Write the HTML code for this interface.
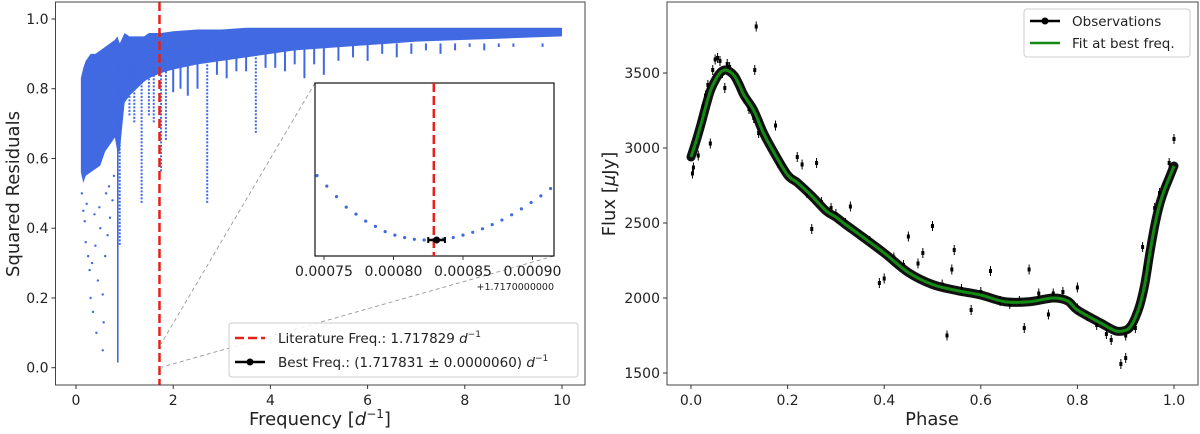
<!DOCTYPE html>
<html><head><meta charset="utf-8"><style>
html,body{margin:0;padding:0;background:#fff}
svg{display:block;font-family:"DejaVu Sans","Liberation Sans",sans-serif}
</style></head><body>
<svg id="fig" width="1200" height="434" viewBox="0 0 1200 434" xmlns="http://www.w3.org/2000/svg">
<g id="left"></g>
<g id="right"></g>
</svg>
<script>
// ---- Left panel data ----
const envFreq = [0.1,0.15,0.2,0.3,0.4,0.5,0.6,0.7,0.8,0.85,0.9,1.0,1.1,1.25,1.4,1.5,1.75,2.0,2.5,3.0,3.5,4.0,4.5,5.0,6.0,7.0,8.0,9.0,10.0];
const envUpper = [0.83,0.86,0.88,0.9,0.9,0.91,0.92,0.93,0.94,0.95,0.93,0.96,0.95,0.95,0.95,0.96,0.96,0.965,0.97,0.97,0.975,0.975,0.975,0.975,0.975,0.975,0.975,0.975,0.975];
const envLower = [0.56,0.53,0.55,0.56,0.57,0.58,0.62,0.64,0.66,0.62,0.62,0.76,0.78,0.80,0.82,0.83,0.845,0.855,0.87,0.88,0.89,0.90,0.91,0.915,0.925,0.935,0.94,0.945,0.95];
const dipFreq = [0.86,0.9,1.1,1.2,1.35,1.5,1.6,1.75,1.85,2.0,2.15,2.3,2.5,2.7,2.9,3.1,3.3,3.5,3.7,3.9,4.1,4.3,4.5,4.7,4.9,5.1,5.4,5.7,6.0,6.3,6.6,6.9,7.2,7.5,7.8,8.1,8.4,8.7,9.0,9.3,9.6,9.85];
const dipMin = [0.015,0.35,0.72,0.70,0.47,0.72,0.70,0.56,0.65,0.79,0.80,0.78,0.80,0.47,0.84,0.83,0.85,0.85,0.67,0.86,0.86,0.85,0.87,0.83,0.87,0.84,0.88,0.89,0.88,0.9,0.89,0.9,0.91,0.9,0.91,0.92,0.91,0.92,0.92,0.93,0.92,0.93];
const lowFreq = [0.15,0.2,0.25,0.28,0.3,0.35,0.4,0.42,0.45,0.5,0.55,0.57,0.55,0.6,0.65,0.7,0.75,0.18,0.33,0.12,0.22,0.38,0.48,0.62,0.68,0.78];
const lowVal = [0.45,0.36,0.32,0.28,0.2,0.16,0.35,0.1,0.25,0.4,0.05,0.13,0.21,0.32,0.38,0.43,0.48,0.42,0.3,0.5,0.47,0.44,0.46,0.5,0.52,0.55];
const xTicksL = [0,2,4,6,8,10];
const yTicksL = [0.0,0.2,0.4,0.6,0.8,1.0];
const litFreq = 1.717829;
// inset data (offset from 1.717)
const insetFreq = [0.000745,0.000752,0.000759,0.000766,0.000773,0.00078,0.000787,0.000794,0.000801,0.000808,0.000815,0.000822,0.000829,0.000836,0.000843,0.00085,0.000857,0.000864,0.000871,0.000878,0.000885,0.000892,0.000899,0.000906,0.000913];
const insetVal = [0.52,0.49,0.46,0.43,0.41,0.39,0.375,0.36,0.35,0.343,0.338,0.336,0.337,0.339,0.343,0.35,0.358,0.368,0.38,0.393,0.408,0.425,0.443,0.462,0.483];
const insetTicks = [0.00075,0.0008,0.00085,0.0009];
const bestOff = 0.000831, bestErr = 0.0000060, bestVal = 0.336;

// ---- Right panel data ----
const fitPhase = [0,0.01,0.02,0.03,0.04,0.05,0.06,0.07,0.08,0.09,0.1,0.11,0.13,0.15,0.17,0.2,0.22,0.25,0.28,0.3,0.32,0.35,0.4,0.45,0.5,0.55,0.6,0.65,0.7,0.75,0.78,0.8,0.85,0.88,0.9,0.91,0.92,0.93,0.94,0.95,0.96,0.97,0.98,0.99,1.0];
const fitFlux = [2940,3040,3150,3270,3380,3450,3500,3520,3510,3480,3420,3350,3250,3100,2980,2820,2770,2680,2580,2540,2490,2420,2300,2170,2090,2050,2020,1975,1975,2000,1980,1920,1830,1780,1785,1810,1870,1960,2100,2300,2480,2620,2720,2800,2880];
const obsPhase = [0.003,0.005,0.01,0.015,0.02,0.025,0.03,0.035,0.04,0.045,0.05,0.055,0.06,0.065,0.07,0.075,0.08,0.09,0.1,0.11,0.12,0.13,0.135,0.132,0.14,0.15,0.16,0.175,0.18,0.19,0.2,0.21,0.22,0.23,0.24,0.25,0.26,0.27,0.29,0.3,0.32,0.33,0.35,0.37,0.39,0.4,0.42,0.44,0.45,0.47,0.48,0.5,0.52,0.53,0.54,0.545,0.56,0.58,0.6,0.62,0.64,0.66,0.68,0.69,0.7,0.72,0.74,0.75,0.77,0.8,0.8,0.82,0.84,0.86,0.87,0.89,0.9,0.9,0.92,0.935,0.94,0.95,0.96,0.97,0.98,0.99,1.0];
const obsFlux = [2830,2870,3050,2950,3200,3280,3350,3420,3030,3520,3590,3600,3580,3500,3400,3560,3540,3480,3410,3330,3260,3200,3810,3520,3100,3120,3050,3150,2900,2880,2830,2790,2940,2890,2700,2460,2900,2640,2600,2560,2500,2610,2420,2380,2100,2130,2270,2220,2410,2230,2300,2480,2090,1750,2190,2320,2060,1920,2040,2180,1980,1960,1980,1800,2190,2030,1890,2030,2040,2070,1930,1880,1820,1760,1720,1560,1600,1750,1800,2340,2200,2200,2600,2700,2750,2900,3060];
const xTicksR = [0.0,0.2,0.4,0.6,0.8,1.0];
const yTicksR = [1500,2000,2500,3000,3500];

const NS = "http://www.w3.org/2000/svg";
function mk(parent, tag, attrs, text){
  const e = document.createElementNS(NS, tag);
  for (const k in attrs) e.setAttribute(k, attrs[k]);
  if (text !== undefined) e.textContent = text;
  parent.appendChild(e);
  return e;
}
const L = document.getElementById('left');
const R = document.getElementById('right');

const xL = f => 76 + f * 48.6;
const yL = v => 367.7 - v * 348.7;
const LB = {l:55.5, r:585, t:2, b:385};

let pts = [];
for (let i=0;i<envFreq.length;i++) pts.push(xL(envFreq[i])+','+yL(envUpper[i]));
for (let i=envFreq.length-1;i>=0;i--) pts.push(xL(envFreq[i])+','+yL(envLower[i]));
const band = mk(L,'polygon',{points:pts.join(' '),fill:'#4169e1'});


for (let i=0;i<dipFreq.length;i++){
  const d = mk(L,'line',{x1:xL(dipFreq[i]),x2:xL(dipFreq[i]),y1:yL(0.93),y2:yL(dipMin[i]),stroke:'#4169e1','stroke-width':i===0?1.6:2,'stroke-dasharray': (i===0 || dipMin[i]>0.75)?'none':'2 1.5'});
  
  
}
for (let i=0;i<lowFreq.length;i++){
  const c = mk(L,'circle',{cx:xL(lowFreq[i]),cy:yL(lowVal[i]),r:1.2,fill:'#4169e1'});
  
  
}
const lit = mk(L,'line',{x1:xL(litFreq),x2:xL(litFreq),y1:LB.t,y2:LB.b,stroke:'#e8201a','stroke-width':2.5,'stroke-dasharray':'9 4'});


const fL = mk(L,'rect',{x:LB.l,y:LB.t,width:LB.r-LB.l,height:LB.b-LB.t,fill:'none',stroke:'#444','stroke-width':1});


xTicksL.forEach(t=>{
  mk(L,'line',{x1:xL(t),x2:xL(t),y1:LB.b,y2:LB.b+4,stroke:'#333'});
  const tx = mk(L,'text',{x:xL(t),y:LB.b+20,'font-size':14,'text-anchor':'middle',fill:'#222'},String(t));
  
  
});
yTicksL.forEach(t=>{
  mk(L,'line',{x1:LB.l-4,x2:LB.l,y1:yL(t),y2:yL(t),stroke:'#333'});
  const tx = mk(L,'text',{x:LB.l-7,y:yL(t)+5,'font-size':14,'text-anchor':'end',fill:'#222'},t.toFixed(1));
  
  
});
const ylab = mk(L,'text',{x:0,y:0,'font-size':18,'text-anchor':'middle',fill:'#222',transform:'translate(19,194) rotate(-90)'},'Squared Residuals');


const xlab = mk(L,'text',{x:320,y:425,'font-size':18,'text-anchor':'middle',fill:'#222'});
xlab.innerHTML = 'Frequency [<tspan font-style="italic">d</tspan><tspan font-size="12" dy="-7">−1</tspan><tspan dy="7">]</tspan>';



// Inset
const IB = {l:315, r:554, t:83, b:256};
const xI = o => 324 + (o - 0.00075) / 0.00005 * 69.5;
const yI = v => 240 - (v - 0.336) * 350;
[[IB.l,IB.t,158.6,348],[IB.r,IB.b,158.6,368]].forEach(c=>{
  const ln = mk(L,'line',{x1:c[0],y1:c[1],x2:c[2],y2:c[3],stroke:'#999','stroke-width':0.9,'stroke-dasharray':'4 3'});
  
  
});
const iF = mk(L,'rect',{x:IB.l,y:IB.t,width:IB.r-IB.l,height:IB.b-IB.t,fill:'#fff',stroke:'#111','stroke-width':1.2});


for (let i=0;i<insetFreq.length;i++){
  const c = mk(L,'circle',{cx:xI(insetFreq[i]),cy:yI(insetVal[i]),r:1.6,fill:'#4169e1'});
  
  
}
const ilit = mk(L,'line',{x1:xI(litFreq-1.717),x2:xI(litFreq-1.717),y1:IB.t,y2:IB.b,stroke:'#e8201a','stroke-width':2.5,'stroke-dasharray':'9 4'});


const eb = mk(L,'g',{});


mk(eb,'line',{x1:xI(bestOff-bestErr),x2:xI(bestOff+bestErr),y1:yI(bestVal),y2:yI(bestVal),stroke:'#000','stroke-width':2.5});
mk(eb,'line',{x1:xI(bestOff-bestErr),x2:xI(bestOff-bestErr),y1:yI(bestVal)-3,y2:yI(bestVal)+3,stroke:'#000','stroke-width':2});
mk(eb,'line',{x1:xI(bestOff+bestErr),x2:xI(bestOff+bestErr),y1:yI(bestVal)-3,y2:yI(bestVal)+3,stroke:'#000','stroke-width':2});
mk(eb,'circle',{cx:xI(bestOff),cy:yI(bestVal),r:3.5,fill:'#000'});
insetTicks.forEach(t=>{
  mk(L,'line',{x1:xI(t),x2:xI(t),y1:IB.b,y2:IB.b+4,stroke:'#333'});
  const tx = mk(L,'text',{x:xI(t),y:IB.b+20,'font-size':14,'text-anchor':'middle',fill:'#222'},t.toFixed(5));
  
  
});
const off = mk(L,'text',{x:554,y:290,'font-size':9.5,'text-anchor':'end',fill:'#222'},'+1.7170000000');



const lg = mk(L,'g',{});


mk(lg,'rect',{x:229,y:323,width:349,height:54,rx:3,fill:'#fff','fill-opacity':0.85,stroke:'#ccc'});
mk(lg,'line',{x1:235,x2:265,y1:338,y2:338,stroke:'#e8201a','stroke-width':2.5,'stroke-dasharray':'9 4'});
const t1 = mk(lg,'text',{x:278,y:343,'font-size':13.5,fill:'#222'});
t1.innerHTML = 'Literature Freq.: 1.717829 <tspan font-style="italic">d</tspan><tspan font-size="9" dy="-6">−1</tspan>';
mk(lg,'line',{x1:235,x2:265,y1:362,y2:362,stroke:'#000','stroke-width':2.5});
mk(lg,'circle',{cx:250,cy:362,r:3.5,fill:'#000'});
const t2 = mk(lg,'text',{x:278,y:367,'font-size':13.5,fill:'#222'});
t2.innerHTML = 'Best Freq.: (1.717831 ± 0.0000060) <tspan font-style="italic">d</tspan><tspan font-size="9" dy="-6">−1</tspan>';

// ---- Right panel ----
const RB = {l:667, r:1198, t:2, b:385};
const xR = p => 691 + p * 483;
const yR = f => 373 - (f - 1500) * 0.15;
const fr = mk(R,'rect',{x:RB.l,y:RB.t,width:RB.r-RB.l,height:RB.b-RB.t,fill:'#fff',stroke:'#444','stroke-width':1});


function smooth(xs, ys){
  let d = 'M'+xs[0]+','+ys[0];
  for (let i=0;i<xs.length-1;i++){
    const x0=xs[Math.max(i-1,0)], y0=ys[Math.max(i-1,0)];
    const x1=xs[i], y1=ys[i], x2=xs[i+1], y2=ys[i+1];
    const x3=xs[Math.min(i+2,xs.length-1)], y3=ys[Math.min(i+2,xs.length-1)];
    d += ' C'+(x1+(x2-x0)/6)+','+(y1+(y2-y0)/6)+' '+(x2-(x3-x1)/6)+','+(y2-(y3-y1)/6)+' '+x2+','+y2;
  }
  return d;
}
const fx = fitPhase.map(xR), fy = fitFlux.map(yR);
const fd = smooth(fx, fy);
const dense = mk(R,'path',{d:fd,fill:'none',stroke:'#111','stroke-width':9,'stroke-linejoin':'round','stroke-linecap':'round'});


for (let i=0;i<obsPhase.length;i++){
  const x = xR(obsPhase[i]), y = yR(obsFlux[i]);
  const g = mk(R,'g',{});
  
  
  mk(g,'line',{x1:x,x2:x,y1:y-5,y2:y+5,stroke:'#000','stroke-width':1});
  mk(g,'rect',{x:x-1.5,y:y-2,width:3,height:4,fill:'#000'});
}
const fit = mk(R,'path',{d:fd,fill:'none',stroke:'#138a13','stroke-width':3,'stroke-linejoin':'round'});


xTicksR.forEach(t=>{
  mk(R,'line',{x1:xR(t),x2:xR(t),y1:RB.b,y2:RB.b+4,stroke:'#333'});
  const tx = mk(R,'text',{x:xR(t),y:RB.b+20,'font-size':14,'text-anchor':'middle',fill:'#222'},t.toFixed(1));
  
  
});
yTicksR.forEach(t=>{
  mk(R,'line',{x1:RB.l-4,x2:RB.l,y1:yR(t),y2:yR(t),stroke:'#333'});
  const tx = mk(R,'text',{x:RB.l-7,y:yR(t)+5,'font-size':14,'text-anchor':'end',fill:'#222'},String(t));
  
  
});
const ylr = mk(R,'text',{x:0,y:0,'font-size':18,'text-anchor':'middle',fill:'#222',transform:'translate(615,194) rotate(-90)'});
ylr.innerHTML = 'Flux [<tspan font-style="italic">μ</tspan>Jy]';


const xlr = mk(R,'text',{x:932,y:425,'font-size':18,'text-anchor':'middle',fill:'#222'},'Phase');


const lr = mk(R,'g',{});


mk(lr,'rect',{x:1024,y:9,width:166,height:48,rx:3,fill:'#fff','fill-opacity':0.85,stroke:'#ccc'});
mk(lr,'line',{x1:1030,x2:1060,y1:21,y2:21,stroke:'#000','stroke-width':2.5});
mk(lr,'circle',{cx:1045,cy:21,r:3.5,fill:'#000'});
mk(lr,'text',{x:1072,y:26,'font-size':13.5,fill:'#222'},'Observations');
mk(lr,'line',{x1:1030,x2:1060,y1:43,y2:43,stroke:'#138a13','stroke-width':2.5});
mk(lr,'text',{x:1072,y:48,'font-size':13.5,fill:'#222'},'Fit at best freq.');
</script>
</body></html>
